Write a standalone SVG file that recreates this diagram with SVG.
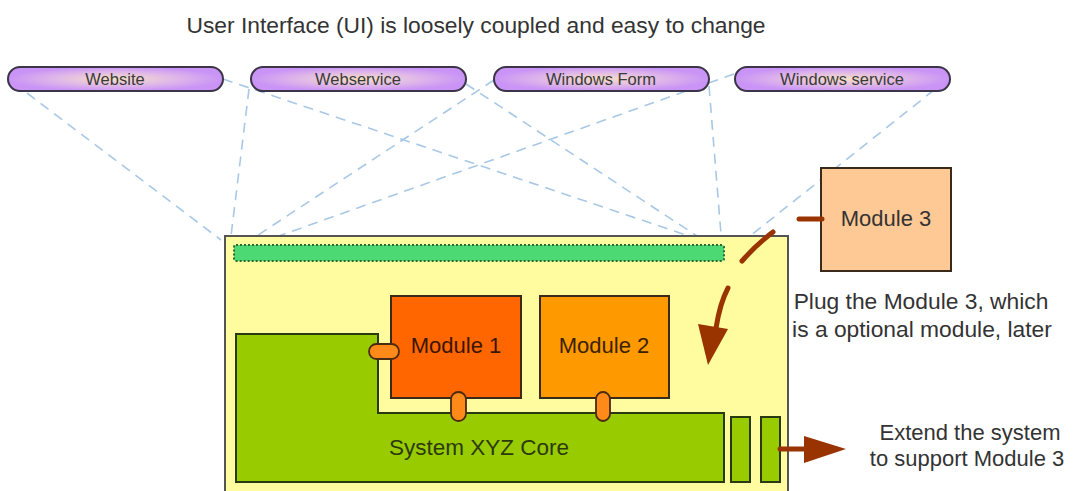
<svg xmlns="http://www.w3.org/2000/svg" width="1074" height="491" viewBox="0 0 1074 491">
<defs>
<radialGradient id="pillGrad" cx="50%" cy="50%" r="50%">
<stop offset="0" stop-color="#f6e0c4"/>
<stop offset="0.55" stop-color="#e0b8e8"/>
<stop offset="1" stop-color="#c994f6"/>
</radialGradient>
<style>
text{font-family:"Liberation Sans",Arial,sans-serif;fill:#333}
.pill{fill:url(#pillGrad);stroke:#3c3548;stroke-width:2}
.pillt{font-size:16.5px;fill:#3a3a3a;text-anchor:middle}
.ui{fill:none;stroke:#a8c8e6;stroke-width:1.6;stroke-dasharray:10 7}
.mod{stroke:#3a2a1a;stroke-width:2}
.big{font-size:22px;text-anchor:middle}
.plug{fill:#ff8a1a;stroke:#4a2a10;stroke-width:1.8}
.core{fill:#99cc00;stroke:#2a3a10;stroke-width:2}
.brown{fill:none;stroke:#993300;stroke-width:5;stroke-linecap:round}
</style>
</defs>
<rect width="1074" height="491" fill="#ffffff"/>
<text x="476" y="33" class="big" style="font-size:22.8px">User Interface (UI) is loosely coupled and easy to change</text>
<g id="connectors">
<line class="ui" x1="27" y1="93" x2="221" y2="240"/>
<line class="ui" x1="223" y1="79" x2="692" y2="237"/>
<line class="ui" x1="249" y1="89" x2="231" y2="236"/>
<line class="ui" x1="466" y1="84" x2="700" y2="238"/>
<line class="ui" x1="494" y1="80" x2="255" y2="237"/>
<line class="ui" x1="709" y1="86" x2="723" y2="259"/>
<line class="ui" x1="734" y1="74" x2="276" y2="237"/>
<line class="ui" x1="934" y1="90" x2="750" y2="236"/>
</g>
<g id="ui-website"><rect class="pill" x="8" y="67" width="215" height="24" rx="12"/><text class="pillt" x="115" y="84.5">Website</text></g>
<g id="ui-webservice"><rect class="pill" x="251" y="67" width="215" height="24" rx="12"/><text class="pillt" x="358" y="84.5">Webservice</text></g>
<g id="ui-windowsform"><rect class="pill" x="494" y="67" width="215" height="24" rx="12"/><text class="pillt" x="601" y="84.5">Windows Form</text></g>
<g id="ui-windowsservice"><rect class="pill" x="735" y="67" width="215" height="24" rx="12"/><text class="pillt" x="842" y="84.5">Windows service</text></g>
<g id="system-box">
<rect x="225" y="236" width="563" height="262" fill="#fffb9f" stroke="#555" stroke-width="2"/>
</g>
<g id="ui-layer">
<rect x="234" y="245" width="490" height="16" rx="2" fill="#4cd873" stroke="#2b6a38" stroke-width="2" stroke-dasharray="2 2"/>
</g>
<g id="core">
<path class="core" d="M236 334 H378 V413 H724 V482 H236 Z"/>
<text x="479" y="455" class="big" style="fill:#2b3a0a;font-size:22.5px">System XYZ Core</text>
</g>
<g id="ext1"><rect class="core" x="731" y="417" width="19" height="65"/></g>
<g id="ext2"><rect class="core" x="761" y="417" width="19" height="65"/></g>
<g id="module1">
<rect class="mod" x="391" y="296" width="130" height="102" fill="#ff6600"/>
<text x="456" y="353" class="big" style="fill:#3a1500">Module 1</text>
</g>
<g id="module2">
<rect class="mod" x="540" y="296" width="129" height="102" fill="#ff9900"/>
<text x="604" y="353" class="big" style="fill:#3a2200">Module 2</text>
</g>
<g id="plugs">
<rect class="plug" x="369" y="344" width="30" height="15" rx="7.5"/>
<rect class="plug" x="451" y="392" width="15" height="29" rx="7.5"/>
<rect class="plug" x="596" y="392" width="14" height="29" rx="7"/>
</g>
<g id="module3">
<rect class="mod" x="821" y="168" width="130" height="103" fill="#ffc996"/>
<text x="886" y="226" class="big">Module 3</text>
</g>
<g id="arrows">
<line class="brown" x1="822" y1="219" x2="799" y2="219"/>
<path class="brown" d="M773 232 Q756 245 742 261"/>
<path class="brown" d="M728 288 Q720 303 716 328"/>
<polygon points="698,324 728,329 708,365" fill="#993300"/>
<line class="brown" x1="780" y1="449" x2="808" y2="449" stroke-linecap="butt"/>
<polygon points="804,436 804,463 846,449" fill="#993300"/>
</g>
<g id="notes">
<text x="921" y="309" class="big" style="font-size:22.8px">Plug the Module 3, which</text>
<text x="922" y="337" class="big" style="font-size:22.8px">is a optional module, later</text>
<text x="970" y="440" class="big">Extend the system</text>
<text x="967" y="466" class="big">to support Module 3</text>
</g>
</svg>
